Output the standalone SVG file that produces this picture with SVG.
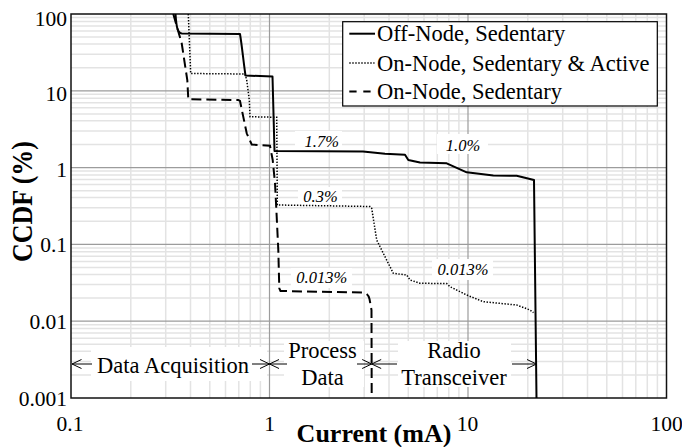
<svg xmlns="http://www.w3.org/2000/svg" width="682" height="447" viewBox="0 0 682 447" font-family="'Liberation Serif', 'DejaVu Serif', serif">
  <style>
    text { font-family: 'Liberation Serif', 'DejaVu Serif', serif; fill: #000; }
    .tick { font-size: 21.5px; }
    .note { font-size: 22.5px; }
    .pct { font-size: 16.5px; font-style: italic; fill: #222; }
    .axis-title { font-size: 26px; font-weight: bold; }
    .minor { stroke: #e3e3e3; stroke-width: 1.5; fill: none; }
    .major { stroke: #9c9c9c; stroke-width: 1.2; fill: none; }
    .knockout { fill: #fff; stroke: none; }
    .solid { stroke: #000; stroke-width: 2; fill: none; stroke-linejoin: round; }
    .dotted { stroke: #000; stroke-width: 1.5; fill: none; stroke-dasharray: 1.4 1.6; }
    .dashed { stroke: #000; stroke-width: 2; fill: none; stroke-dasharray: 10 5; }
    .arrow { stroke: #000; stroke-width: 1; fill: none; marker-end: url(#openHead); }
  </style>
  <defs>
    <marker id="openHead" markerUnits="userSpaceOnUse" markerWidth="12" markerHeight="12" viewBox="-11 -6 12 12" refX="0" refY="0" orient="auto">
      <path d="M-9.5,-4.5 L0,0 L-9.5,4.5" fill="none" stroke="#000" stroke-width="1"/>
    </marker>
  </defs>

  <rect x="0" y="0" width="682" height="447" fill="#fff"/>

  <!-- log-log grid: x 0.1..100 mA, y 0.001..100 % -->
  <g id="grid">
    <path class="minor" d="M130.8 14V398M165.7 14V398M190.5 14V398M209.8 14V398M225.5 14V398M238.8 14V398M250.3 14V398M260.4 14V398
      M329.3 14V398M364.2 14V398M389 14V398M408.3 14V398M424 14V398M437.3 14V398M448.8 14V398M458.9 14V398
      M527.8 14V398M562.7 14V398M587.5 14V398M606.8 14V398M622.5 14V398M635.8 14V398M647.3 14V398M657.4 14V398"/>
    <path class="minor" d="M71 17.5H666.5M71 21.4H666.5M71 25.9H666.5M71 31H666.5M71 37.1H666.5M71 44H666.5M71 54.2H666.5M71 67.7H666.5
      M71 94.3H666.5M71 98.2H666.5M71 102.7H666.5M71 107.8H666.5M71 113.9H666.5M71 120.8H666.5M71 131H666.5M71 144.5H666.5
      M71 171.1H666.5M71 175H666.5M71 179.5H666.5M71 184.6H666.5M71 190.7H666.5M71 197.6H666.5M71 207.8H666.5M71 221.3H666.5
      M71 247.9H666.5M71 251.8H666.5M71 256.3H666.5M71 261.4H666.5M71 267.5H666.5M71 274.4H666.5M71 284.6H666.5M71 298.1H666.5
      M71 324.7H666.5M71 328.6H666.5M71 333.1H666.5M71 338.2H666.5M71 344.3H666.5M71 351.2H666.5M71 361.4H666.5M71 374.9H666.5"/>
    <path class="major" d="M71 90.8H666.5M71 167.6H666.5M71 244.4H666.5M71 321.2H666.5"/>
    <path class="major" d="M468 14V398"/>
  </g>

  <!-- white backing behind the in-plot labels -->
  <g id="label-backs">
    <rect class="knockout" x="91" y="347" width="176" height="34"/>
    <rect class="knockout" x="284" y="341" width="80" height="46"/>
    <rect class="knockout" x="398" y="341" width="113" height="46"/>
    <rect class="knockout" x="295" y="131" width="47" height="18"/>
    <rect class="knockout" x="437" y="134" width="51" height="20"/>
    <rect class="knockout" x="298" y="187" width="44" height="17"/>
    <rect class="knockout" x="291" y="268" width="61" height="20"/>
    <rect class="knockout" x="432" y="259" width="61" height="21"/>
  </g>

  <path class="major" d="M269.5 14V398"/>

  <!-- plot frame -->
  <rect id="frame" x="71" y="14" width="595.5" height="384" fill="none" stroke="#111" stroke-width="1.5"/>

  <!-- axis tick labels -->
  <g id="y-ticks" class="tick" text-anchor="end">
    <text x="67" y="26">100</text>
    <text x="67" y="100.5">10</text>
    <text x="67" y="176.5">1</text>
    <text x="67" y="251.8">0.1</text>
    <text x="67" y="328.5">0.01</text>
    <text x="67" y="406">0.001</text>
  </g>
  <g id="x-ticks" class="tick" text-anchor="middle">
    <text x="70" y="430.7">0.1</text>
    <text x="269.7" y="430.7">1</text>
    <text x="467.5" y="430.7">10</text>
    <text x="666.7" y="430.7">100</text>
  </g>

  <text id="x-title" class="axis-title" x="374" y="442" text-anchor="middle">Current (mA)</text>
  <text id="y-title" class="axis-title" text-anchor="middle" transform="translate(31.7,201.5) rotate(-90) scale(1,1.12)">CCDF (%)</text>

  <!-- CCDF curves -->
  <g id="curves">
    <path id="off-node-sedentary" class="solid" d="M175.5,14 C176.5,28 177.5,33 182,33.5 L240,34 C242,46 243.5,62 245.5,75.5 L272.5,76.5 L274.5,151 L363,151.5 L385,153.8 L405,154.8 L408.3,160 L420,162.5 L446.7,163.3 L466.7,172.3 L493.3,175.6 L516.7,175.7 L534,180 L536.5,398"/>
    <path id="on-node-sed-active" class="dotted" d="M188.3,14 L190.7,73.5 L245,74 L246.7,80 L249.3,100 L250,116.7 L276.7,117.3 L277.3,205 L370,206.5 L371.7,208.3 L376.7,240 L383.3,253.3 L393.3,273.3 L406.7,275 L410,280 L420,283.3 L446.7,283.5 L450,286.7 L466.7,295 L483.3,301.7 L516.7,305 L530,310 L533.5,312.7"/>
    <path id="on-node-sedentary" class="dashed" d="M173.3,14 L181.7,43.3 L187.3,80 L188.3,99.3 L238.3,100 L240,101 L246.7,133.3 L251.7,144.5 L270,145.7 L272.7,160 L275,183 L276.7,216.7 L278.3,250 L279.3,288.3 L280.5,291 L363.3,292.5 C366.5,293 368.5,295 369.5,299 L371.5,310 L371.7,398"/>
  </g>

  <!-- percentage call-outs -->
  <g id="pct-labels" class="pct" text-anchor="middle">
    <text x="321.7" y="146.5">1.7%</text>
    <text x="463" y="150.5">1.0%</text>
    <text x="320.5" y="201.5">0.3%</text>
    <text x="321.7" y="283">0.013%</text>
    <text x="463" y="275">0.013%</text>
  </g>

  <!-- operating-phase ranges -->
  <g id="phase-data-acquisition">
    <text class="note" x="173" y="372.7" text-anchor="middle">Data Acquisition</text>
  </g>
  <g id="phase-process-data">
    <text class="note" x="322.5" y="358.3" text-anchor="middle">Process</text>
    <text class="note" x="322.5" y="385" text-anchor="middle">Data</text>
  </g>
  <g id="phase-radio">
    <text class="note" x="454" y="358.3" text-anchor="middle">Radio</text>
    <text class="note" x="454" y="385" text-anchor="middle">Transceiver</text>
  </g>
  <g id="connectors">
    <line class="arrow" x1="92" y1="364" x2="72" y2="364"/>
    <line class="arrow" x1="252" y1="364" x2="269.5" y2="364"/>
    <line class="arrow" x1="287" y1="364" x2="269.5" y2="364"/>
    <line class="arrow" x1="357" y1="364" x2="371.7" y2="364"/>
    <line class="arrow" x1="397" y1="364" x2="371.7" y2="364"/>
    <line class="arrow" x1="512" y1="364" x2="536.5" y2="364"/>
  </g>

  <!-- legend -->
  <g id="legend">
    <rect x="342.7" y="21.7" width="314.6" height="84.3" fill="#fff" stroke="#000" stroke-width="1.2"/>
    <line class="solid" x1="349.3" y1="33.7" x2="375" y2="33.7"/>
    <line class="dotted" x1="349.3" y1="63" x2="374.5" y2="63"/>
    <line class="dashed" x1="349.3" y1="91.5" x2="371" y2="91.5" style="stroke-dasharray:7.3 6.7"/>
    <text class="note" x="377" y="41.3">Off-Node, Sedentary</text>
    <text class="note" x="377" y="70.5">On-Node, Sedentary &amp; Active</text>
    <text class="note" x="377" y="99">On-Node, Sedentary</text>
  </g>
</svg>
